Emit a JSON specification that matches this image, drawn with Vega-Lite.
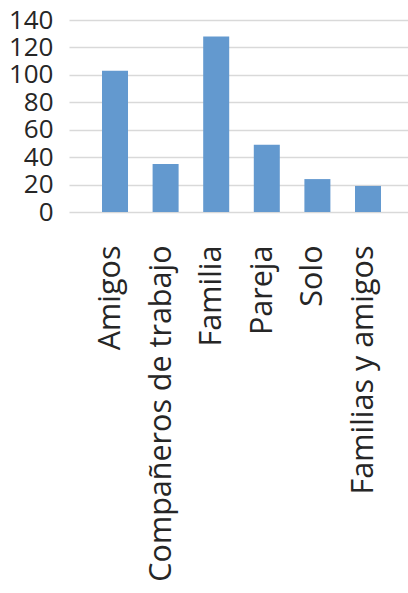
{
  "$schema": "https://vega.github.io/schema/vega-lite/v6.json",
  "width": 339,
  "height": 192,
  "autosize": {"type": "none"},
  "padding": {"left": 69, "top": 20, "right": 0, "bottom": 381},
  "background": "white",
  "data": {
    "values": [
      {"categoria": "Amigos", "valor": 103},
      {"categoria": "Compañeros de trabajo", "valor": 35},
      {"categoria": "Familia", "valor": 128},
      {"categoria": "Pareja", "valor": 49},
      {"categoria": "Solo", "valor": 24},
      {"categoria": "Familias y amigos", "valor": 19}
    ]
  },
  "mark": {"type": "bar", "color": "#6399cf"},
  "encoding": {
    "x": {
      "field": "categoria",
      "type": "nominal",
      "sort": null,
      "scale": {"paddingInner": 0.486, "paddingOuter": 0.593, "align": 0.55},
      "axis": {
        "title": null,
        "labelAngle": -90,
        "labelFont": "Open Sans",
        "labelFontSize": 30.5,
        "labelColor": "#262626",
        "labelPadding": 33,
        "labelOffset": -4,
        "labelOverlap": false,
        "ticks": false,
        "domain": false,
        "grid": false,
        "labelLimit": 0
      }
    },
    "y": {
      "field": "valor",
      "type": "quantitative",
      "scale": {"domain": [0, 140], "nice": false},
      "axis": {
        "title": null,
        "values": [0, 20, 40, 60, 80, 100, 120, 140],
        "labelFont": "Open Sans",
        "labelFontSize": 26,
        "labelColor": "#262626",
        "labelPadding": 16,
        "labelOverlap": false,
        "ticks": false,
        "domain": false,
        "grid": true,
        "gridColor": "#d9d9d9",
        "gridWidth": 1.4
      }
    }
  },
  "config": {"view": {"stroke": null}}
}
